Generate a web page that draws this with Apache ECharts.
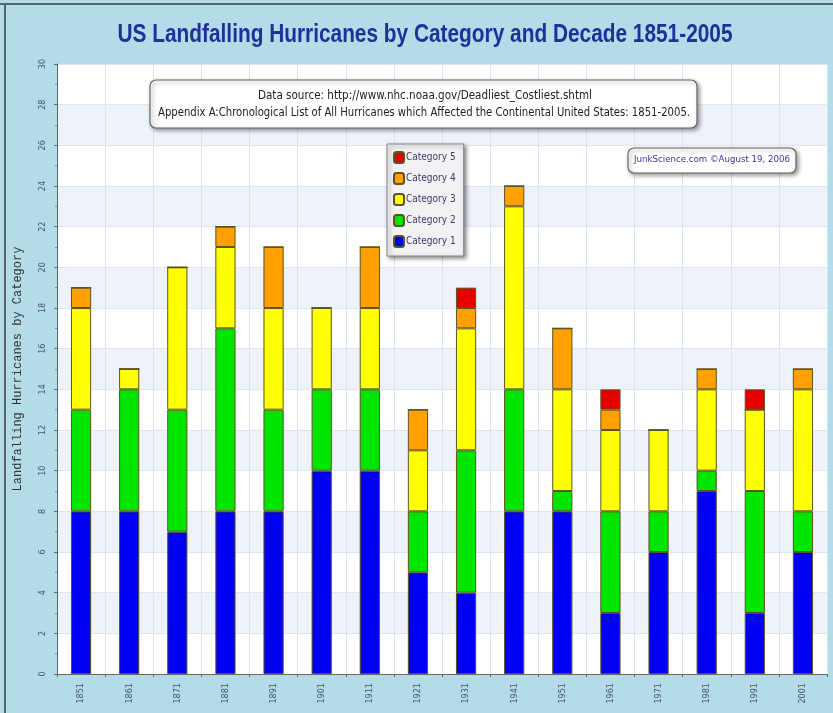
<!DOCTYPE html>
<html>
<head>
<meta charset="utf-8">
<script src="https://cdn.jsdelivr.net/npm/echarts@6/dist/echarts.min.js"></script>
<style>
html,body{margin:0;padding:0;background:#b4dce8;}
#chart{width:833px;height:713px;}
</style>
</head>
<body>
<div id="chart"></div>
<script>
const decades = ['1851','1861','1871','1881','1891','1901','1911','1921','1931','1941','1951','1961','1971','1981','1991','2001'];
const category1 = [8, 8, 7, 8, 8, 10, 10, 5, 4, 8, 8, 3, 6, 9, 3, 6];
const category2 = [5, 6, 6, 9, 5, 4, 4, 3, 7, 6, 1, 5, 2, 1, 6, 2];
const category3 = [5, 1, 7, 4, 5, 4, 4, 3, 6, 9, 5, 4, 4, 4, 4, 6];
const category4 = [1, 0, 0, 1, 3, 0, 3, 2, 1, 1, 3, 1, 0, 1, 0, 1];
const category5 = [0, 0, 0, 0, 0, 0, 0, 0, 1, 0, 0, 1, 0, 0, 1, 0];
const yTicks = [0, 30, 2];

const titleText = 'US Landfalling Hurricanes by Category and Decade 1851-2005';
const note1 = 'Data source: http://www.nhc.noaa.gov/Deadliest_Costliest.shtml';
const note2 = 'Appendix A:Chronological List of All Hurricanes which Affected the Continental United States: 1851-2005.';
const credit = 'JunkScience.com \u00a9August 19, 2006';

const cv = document.createElement('canvas').getContext('2d');
function fit(text, font, width) {
  cv.font = font;
  const w = cv.measureText(text).width;
  return w > 0 ? width / w : 1;
}

const chart = echarts.init(document.getElementById('chart'));
const barBorder = {borderColor: '#5c5420', borderWidth: 1};
function mk(name, data, color) {
  return {
    name: name, type: 'bar', stack: 'total', data: data, barWidth: '42%',
    itemStyle: Object.assign({color: color}, barBorder)
  };
}
const narrow = "'DejaVu Sans Condensed',sans-serif";
const tFont = "bold 26px 'Liberation Sans'";
const nFont = "11.5px 'DejaVu Sans Condensed'";
const cFont = "9px 'DejaVu Sans Condensed'";
chart.setOption({
  backgroundColor: '#b4dce8',
  animation: false,
  grid: {left: 57, right: 6, top: 64, bottom: 39, backgroundColor: '#ffffff', show: true, borderWidth: 0},
  legend: {
    orient: 'vertical', left: 387, top: 144,
    data: ['Category 5', 'Category 4', 'Category 3', 'Category 2', 'Category 1'],
    itemWidth: 10, itemHeight: 11, itemGap: 8,
    backgroundColor: '#f2f2f4', borderColor: '#888', borderWidth: 1,
    padding: [7, 8, 8, 6],
    shadowBlur: 4, shadowColor: 'rgba(0,0,0,0.45)', shadowOffsetX: 2, shadowOffsetY: 2,
    textStyle: {fontFamily: narrow, fontSize: 10, color: '#3a3a6a', padding: [0,0,0,-3]}
  },
  xAxis: {
    type: 'category', data: decades,
    axisLine: {lineStyle: {color: '#666', width: 1}},
    axisTick: {show: true, alignWithLabel: false, length: 3, lineStyle: {color: '#666'}},
    axisLabel: {rotate: 90, fontSize: 9, color: '#445566', margin: 9, fontFamily: narrow},
    splitLine: {show: true, lineStyle: {color: '#dde3ee', width: 1}}
  },
  yAxis: {
    type: 'value', min: yTicks[0], max: yTicks[1], interval: yTicks[2],
    name: 'Landfalling Hurricanes by Category', nameLocation: 'middle', nameGap: 33,
    nameTextStyle: {fontFamily: "'Liberation Mono',monospace", fontSize: 12, color: '#333'},
    axisLine: {show: true, lineStyle: {color: '#666'}},
    axisTick: {show: true, length: 3, lineStyle: {color: '#666'}},
    minorTick: {show: true, splitNumber: 2, length: 2, lineStyle: {color: '#888'}},
    axisLabel: {rotate: 90, fontSize: 9, color: '#445566', margin: 10, fontFamily: narrow},
    splitLine: {show: true, lineStyle: {color: '#dfe5f0'}},
    splitArea: {show: true, areaStyle: {color: ['#ffffff', '#eef2fb']}}
  },
  graphic: [
    {type: 'line', shape: {x1: 0, y1: 4, x2: 833, y2: 4}, style: {stroke: '#56656e', lineWidth: 2}, z: 100},
    {type: 'line', shape: {x1: 5, y1: 4, x2: 5, y2: 713}, style: {stroke: '#56656e', lineWidth: 2}, z: 100},
    {type: 'text', x: 425, y: 35, scaleX: fit(titleText, tFont, 615), z: 60,
     style: {text: titleText, align: 'center', verticalAlign: 'middle', font: tFont, fill: '#1f2f9c'}},
    {type: 'rect', shape: {x: 150, y: 80, width: 547, height: 48, r: 6}, z: 50,
     style: {fill: '#ffffff', stroke: '#666', lineWidth: 1.2, shadowBlur: 4, shadowColor: 'rgba(0,0,0,0.4)', shadowOffsetX: 2, shadowOffsetY: 2}},
    {type: 'text', x: 425, y: 96, z: 51, scaleX: fit(note1, nFont, 334),
     style: {text: note1, align: 'center', verticalAlign: 'middle', font: nFont, fill: '#222'}},
    {type: 'text', x: 424, y: 113, z: 51, scaleX: fit(note2, nFont, 532),
     style: {text: note2, align: 'center', verticalAlign: 'middle', font: nFont, fill: '#222'}},
    {type: 'rect', shape: {x: 628, y: 148, width: 168, height: 25, r: 6}, z: 50,
     style: {fill: '#ffffff', stroke: '#666', lineWidth: 1.2, shadowBlur: 4, shadowColor: 'rgba(0,0,0,0.4)', shadowOffsetX: 2, shadowOffsetY: 2}},
    {type: 'text', x: 712, y: 160, z: 51, scaleX: fit(credit, cFont, 156),
     style: {text: credit, align: 'center', verticalAlign: 'middle', font: cFont, fill: '#3535a8'}}
  ],
  series: [
    mk('Category 1', category1, '#0000f5'),
    mk('Category 2', category2, '#00e600'),
    mk('Category 3', category3, '#ffff00'),
    mk('Category 4', category4, '#ffa000'),
    mk('Category 5', category5, '#e80000')
  ]
});
</script>
</body>
</html>
